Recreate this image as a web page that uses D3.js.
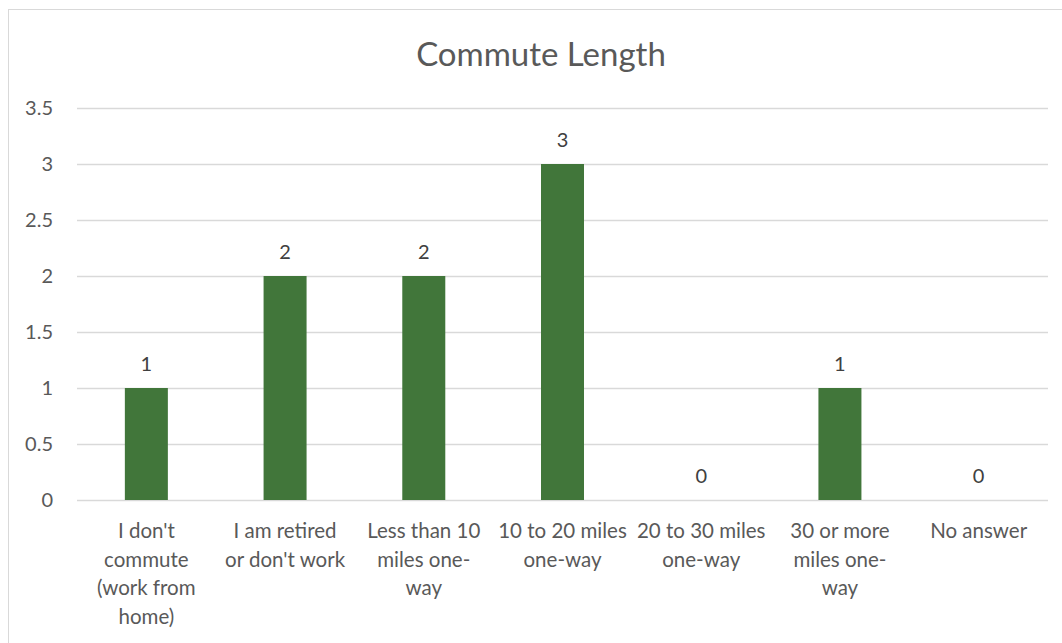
<!DOCTYPE html>
<html>
<head>
<meta charset="utf-8">
<script src="https://cdn.jsdelivr.net/npm/d3@7"></script>
<style>
  body { margin: 0; background: #fff; }
  svg { display: block; font-family: Lato, "Open Sans", sans-serif; }
</style>
</head>
<body>
<svg id="chart" width="1062" height="643"></svg>
<script>
const title = "Commute Length";
const categories = [
  "I don't commute (work from home)",
  "I am retired or don't work",
  "Less than 10 miles one-way",
  "10 to 20 miles one-way",
  "20 to 30 miles one-way",
  "30 or more miles one-way",
  "No answer"
];
const tickLines = [
  ["I don't", "commute", "(work from", "home)"],
  ["I am retired", "or don't work"],
  ["Less than 10", "miles one-", "way"],
  ["10 to 20 miles", "one-way"],
  ["20 to 30 miles", "one-way"],
  ["30 or more", "miles one-", "way"],
  ["No answer"]
];
const counts = [1, 2, 2, 3, 0, 1, 0];
const yTicks = [0, 0.5, 1, 1.5, 2, 2.5, 3, 3.5];

const svg = d3.select('#chart');
const m = { left: 77, right: 1048, top: 108, bottom: 500 };

// outer frame (right and bottom edges fall outside the picture)
svg.append('rect')
  .attr('x', 8.5).attr('y', 9.5)
  .attr('width', 1080).attr('height', 680)
  .attr('fill', '#fff').attr('stroke', '#d9d9d9');

svg.append('text')
  .attr('x', 541).attr('y', 66)
  .attr('text-anchor', 'middle')
  .attr('font-size', '33px')
  .attr('fill', '#595959')
  .text(title);

const x = d3.scaleBand().domain(categories).range([m.left, m.right]).paddingInner(0.69).paddingOuter(0.345);
const y = d3.scaleLinear().domain([0, 3.5]).range([m.bottom, m.top]);

// gridlines
svg.append('g').selectAll('line').data(yTicks).join('line')
  .attr('x1', m.left).attr('x2', m.right)
  .attr('y1', d => Math.round(y(d)) + 0.5).attr('y2', d => Math.round(y(d)) + 0.5)
  .attr('stroke', '#d9d9d9').attr('stroke-width', 1.5);

// y tick labels
svg.append('g').selectAll('text').data(yTicks).join('text')
  .attr('x', 53).attr('y', d => y(d) + 7)
  .attr('text-anchor', 'end')
  .attr('font-size', '20px')
  .attr('fill', '#595959')
  .text(d => d);

// bars
svg.append('g').selectAll('rect').data(counts).join('rect')
  .attr('x', (d, i) => x(categories[i]))
  .attr('width', x.bandwidth())
  .attr('y', d => y(d))
  .attr('height', d => y(0) - y(d))
  .attr('fill', '#41763a');

// data labels
svg.append('g').selectAll('text').data(counts).join('text')
  .attr('x', (d, i) => x(categories[i]) + x.bandwidth() / 2)
  .attr('y', d => y(d) - 17)
  .attr('text-anchor', 'middle')
  .attr('font-size', '20px')
  .attr('fill', '#404040')
  .text(d => d);

// category labels
const cat = svg.append('g').selectAll('text').data(tickLines).join('text')
  .attr('text-anchor', 'middle')
  .attr('font-size', '20.5px')
  .attr('fill', '#595959');
cat.each(function(lines, i) {
  const cx = x(categories[i]) + x.bandwidth() / 2;
  d3.select(this).selectAll('tspan').data(lines).join('tspan')
    .attr('x', cx)
    .attr('y', (d, j) => 538 + j * 28.5)
    .text(d => d);
});
</script>
</body>
</html>
